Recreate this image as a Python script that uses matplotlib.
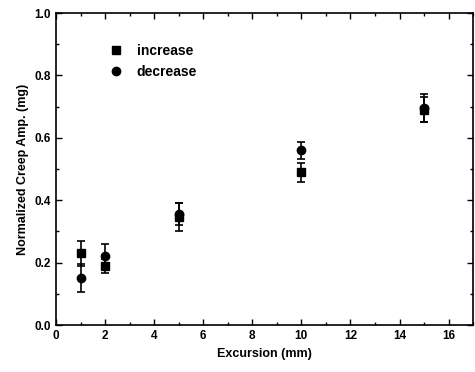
import numpy as np
import matplotlib.pyplot as plt
from matplotlib.ticker import MultipleLocator
from matplotlib.lines import Line2D

plt.rcParams['font.family'] = ['Liberation Sans', 'DejaVu Sans']
plt.rcParams['font.weight'] = 'bold'

### creep amplitude vs excursion
excursion = [1, 2, 5, 10, 15]
inc_amp = [0.23, 0.19, 0.345, 0.49, 0.69]
inc_err = [0.04, 0.022, 0.045, 0.03, 0.04]
dec_amp = [0.15, 0.22, 0.355, 0.56, 0.695]
dec_err = [0.045, 0.04, 0.035, 0.027, 0.045]

fig = plt.figure(figsize=(4.75, 3.72), dpi=100)
ax = fig.add_axes([0.118, 0.126, 0.878, 0.839])

ax.errorbar(excursion, inc_amp, yerr=inc_err, fmt='s', color='black',
            markersize=6, capsize=3, elinewidth=1.2, capthick=1.2)
ax.errorbar(excursion, dec_amp, yerr=dec_err, fmt='o', color='black',
            markersize=6, capsize=3, elinewidth=1.2, capthick=1.2)

handles = [Line2D([], [], marker='s', color='black', linestyle='none', markersize=6),
           Line2D([], [], marker='o', color='black', linestyle='none', markersize=6)]
ax.legend(handles, ['increase', 'decrease'], loc='upper left',
          bbox_to_anchor=(0.08, 0.942), frameon=False, fontsize=10,
          handletextpad=0.5, labelspacing=0.55)

ax.set_xlim(0, 17)
ax.set_ylim(0, 1.0)
ax.xaxis.set_major_locator(MultipleLocator(2))
ax.xaxis.set_minor_locator(MultipleLocator(1))
ax.yaxis.set_major_locator(MultipleLocator(0.2))
ax.yaxis.set_minor_locator(MultipleLocator(0.1))
ax.set_xticks(np.arange(0, 17, 2))
ax.yaxis.set_major_formatter(plt.FuncFormatter(lambda v, p: f'{v:.1f}'))
ax.tick_params(which='both', direction='in', top=True, right=True, labelsize=8.5)
ax.tick_params(which='major', length=4, width=1)
ax.tick_params(which='minor', length=2, width=1)
for s in ax.spines.values():
    s.set_linewidth(1.2)

ax.set_xlabel('Excursion (mm)', fontsize=9, fontweight='bold')
ax.set_ylabel('Normalized Creep Amp. (mg)', fontsize=9, fontweight='bold')

fig.savefig('out.png', dpi=100)
